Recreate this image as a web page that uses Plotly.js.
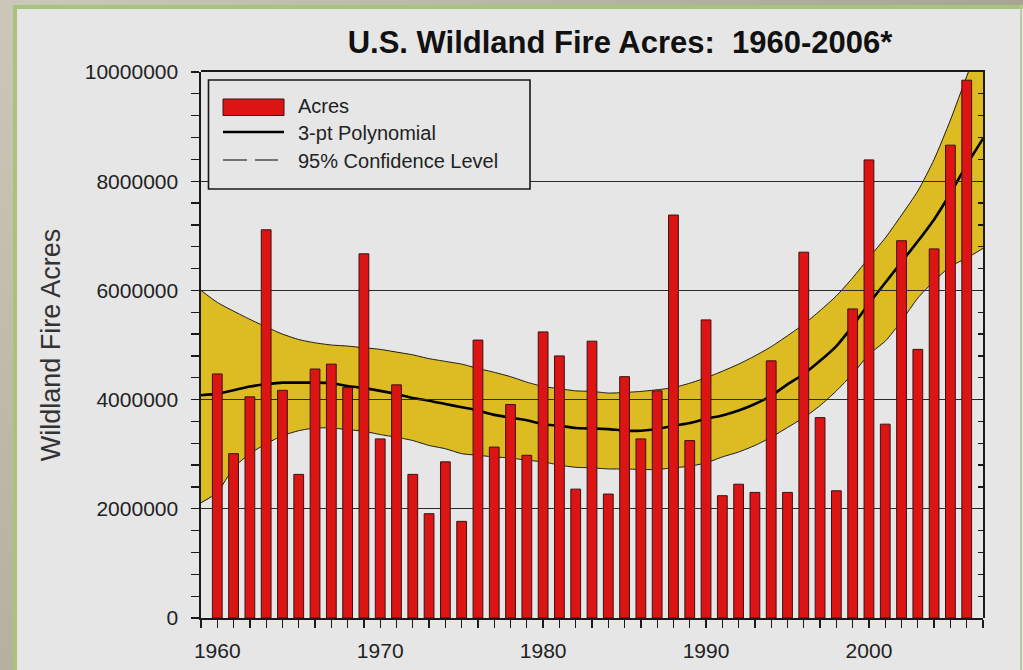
<!DOCTYPE html>
<html>
<head>
<meta charset="utf-8">
<script src="https://cdn.plot.ly/plotly-3.0.1.min.js"></script>
<style>
  html, body { margin: 0; padding: 0; background: #e6e6e6; overflow: hidden; }
  .fr { position: absolute; }
  #plot { position: absolute; left: 0; top: 0; width: 1023px; height: 670px; }
</style>
</head>
<body>
<div class="fr" style="left:0;top:0;width:13px;height:670px;background:linear-gradient(#cbc8b9,#b4b1a0);"></div>
<div class="fr" style="left:0;top:0;width:1023px;height:5px;background:linear-gradient(90deg,#cbc8b9,#a9a595);"></div>
<div class="fr" style="left:13px;top:5px;width:4px;height:665px;background:#a9c27c;"></div>
<div class="fr" style="left:13px;top:5px;width:1010px;height:4px;background:#a9c27c;"></div>
<div class="fr" style="left:1020px;top:5px;width:2px;height:665px;background:#b9cc98;"></div>
<div id="plot"></div>
<script>
// ---- data ----
const years = [1960,1961,1962,1963,1964,1965,1966,1967,1968,1969,
               1970,1971,1972,1973,1974,1975,1976,1977,1978,1979,
               1980,1981,1982,1983,1984,1985,1986,1987,1988,1989,
               1990,1991,1992,1993,1994,1995,1996,1997,1998,1999,
               2000,2001,2002,2003,2004,2005,2006];
const acres = [4470000,3010000,4050000,7110000,4170000,2630000,4560000,4650000,4220000,6670000,
               3280000,4270000,2630000,1910000,2860000,1770000,5090000,3130000,3910000,2980000,
               5240000,4800000,2360000,5070000,2270000,4420000,3280000,4160000,7380000,3250000,
               5460000,2240000,2450000,2300000,4710000,2300000,6700000,3670000,2330000,5660000,
               8390000,3550000,6910000,4920000,6760000,8660000,9850000];

const fitYears = [1959,1960,1961,1962,1963,1964,1965,1966,1967,1968,1969,
                  1970,1971,1972,1973,1974,1975,1976,1977,1978,1979,
                  1980,1981,1982,1983,1984,1985,1986,1987,1988,1989,
                  1990,1991,1992,1993,1994,1995,1996,1997,1998,1999,
                  2000,2001,2002,2003,2004,2005,2006,2007];
const polyFit = [4080000,4110000,4170000,4240000,4280000,4310000,4310000,4310000,4300000,4250000,4210000,
                 4160000,4100000,4030000,3980000,3920000,3860000,3800000,3720000,3670000,3620000,
                 3550000,3520000,3480000,3470000,3460000,3430000,3430000,3460000,3520000,3570000,
                 3650000,3710000,3800000,3920000,4070000,4280000,4470000,4710000,4980000,5350000,
                 5760000,6140000,6520000,6900000,7300000,7780000,8300000,8780000];
const upper95 = [6000000,5780000,5620000,5470000,5330000,5200000,5100000,5040000,5000000,4980000,4950000,
                 4920000,4870000,4820000,4750000,4700000,4650000,4570000,4500000,4420000,4320000,
                 4240000,4200000,4160000,4150000,4120000,4130000,4150000,4180000,4220000,4300000,
                 4400000,4520000,4650000,4800000,4970000,5170000,5380000,5630000,5900000,6230000,
                 6600000,6960000,7380000,7820000,8400000,9120000,9920000,10700000];
const lower95 = [2110000,2300000,2750000,3010000,3190000,3340000,3430000,3480000,3480000,3450000,3420000,
                 3360000,3310000,3250000,3160000,3100000,3010000,2980000,2950000,2930000,2890000,
                 2860000,2800000,2760000,2750000,2730000,2730000,2720000,2720000,2750000,2780000,
                 2840000,2950000,3040000,3160000,3310000,3490000,3670000,3890000,4160000,4470000,
                 4830000,5070000,5440000,5860000,6170000,6440000,6590000,6770000];

const yTicks = [0,2000000,4000000,6000000,8000000,10000000];
const xTickYears = [1960,1970,1980,1990,2000];
const legendNames = ['Acres','3-pt Polynomial','95% Confidence Level'];
const titleText = 'U.S. Wildland Fire Acres:&nbsp; 1960-2006*';
const yTitle = 'Wildland Fire Acres';

// ---- styling ----
const FONT = 'Arial, "Liberation Sans", sans-serif';
const RED = '#dc1414';
const GOLD = '#dcbc22';
const INK = '#1a1a1a';

// plot-area geometry (pixels) for paper-coordinate helpers
const W = 1023, H = 670;
const L = 201, R = 983, T = 72, B = 618;
const fx = px => (px - L) / (R - L);
const fy = py => (B - py) / (B - T);

const traces = [
  { x: fitYears, y: lower95, type: 'scatter', mode: 'lines', name: legendNames[2],
    line: { color: INK, width: 1, shape: 'spline', smoothing: 0.6 }, xaxis: 'x', yaxis: 'y',
    hoverinfo: 'x+y', showlegend: false },
  { x: fitYears, y: upper95, type: 'scatter', mode: 'lines', name: legendNames[2],
    fill: 'tonexty', fillcolor: GOLD,
    line: { color: INK, width: 1, shape: 'spline', smoothing: 0.6 }, xaxis: 'x', yaxis: 'y',
    hoverinfo: 'x+y', showlegend: false },
  { x: fitYears, y: polyFit, type: 'scatter', mode: 'lines', name: legendNames[1],
    line: { color: '#000', width: 2.6, shape: 'spline', smoothing: 0.6 }, xaxis: 'x', yaxis: 'y',
    showlegend: false },
  { x: years, y: acres, type: 'bar', name: legendNames[0], width: 0.6,
    marker: { color: RED, line: { color: '#3b1212', width: 1 } },
    xaxis: 'x2', yaxis: 'y2', showlegend: false }
];

const axisFont = { family: FONT, size: 21, color: '#222' };

const layout = {
  width: W, height: H,
  margin: { l: L, r: W - R, t: T, b: H - B, pad: 0 },
  paper_bgcolor: 'rgba(0,0,0,0)',
  plot_bgcolor: 'rgba(0,0,0,0)',
  showlegend: false,
  title: { text: titleText, x: 620 / W, xanchor: 'center', y: 1 - 42 / H, yanchor: 'middle',
           font: { family: FONT, size: 31, color: '#111', weight: 'bold' } },
  xaxis: {
    domain: [0, 1], anchor: 'y', range: [1959, 2007], fixedrange: true,
    tickvals: xTickYears, ticktext: xTickYears.map(String),
    ticks: 'outside', ticklen: 8, tickwidth: 1.3, tickcolor: INK,
    minor: { tick0: 1959, dtick: 1, ticks: 'outside', ticklen: 8, tickwidth: 1.3, tickcolor: INK, showgrid: false },
    showline: true, linecolor: INK, linewidth: 1.6, showgrid: false, zeroline: false,
    tickfont: axisFont, ticklabelstandoff: 5
  },
  yaxis: {
    domain: [0, 1], anchor: 'x', range: [0, 10000000], fixedrange: true,
    tickvals: yTicks, ticktext: yTicks.map(v => String(v)),
    ticks: 'outside', ticklen: 8, tickwidth: 1.3, tickcolor: INK,
    minor: { dtick: 400000, ticks: 'outside', ticklen: 8, tickwidth: 1.3, tickcolor: INK, showgrid: false },
    showline: true, linecolor: INK, linewidth: 1.6, showgrid: false, zeroline: false,
    tickfont: axisFont, ticklabelstandoff: 9,
    title: { text: yTitle, font: { family: FONT, size: 27, color: '#333' }, standoff: 16 }
  },
  xaxis2: {
    domain: [0, 1], anchor: 'y2', side: 'top', range: [1959, 2007], fixedrange: true,
    showline: true, linecolor: INK, linewidth: 1.6, ticks: '', showticklabels: false,
    showgrid: false, zeroline: false
  },
  yaxis2: {
    domain: [0, 1], anchor: 'x2', side: 'right', range: [0, 10000000], fixedrange: true,
    tickvals: yTicks, ticks: 'inside', ticklen: 5, tickwidth: 1.3, tickcolor: INK,
    minor: { dtick: 400000, ticks: 'inside', ticklen: 5, tickwidth: 1.3, tickcolor: INK, showgrid: false },
    showticklabels: false, showline: true, linecolor: INK, linewidth: 1.6,
    showgrid: true, gridcolor: '#2a2a2a', gridwidth: 1.3, zeroline: false
  },
  shapes: [
    // legend frame
    { type: 'rect', xref: 'paper', yref: 'paper', x0: fx(208.5), x1: fx(530), y0: fy(189), y1: fy(80),
      fillcolor: '#e6e6e6', line: { color: INK, width: 1.6 }, layer: 'above' },
    // legend swatches
    { type: 'rect', xref: 'paper', yref: 'paper', x0: fx(223), x1: fx(284), y0: fy(115.5), y1: fy(99),
      fillcolor: RED, line: { color: '#3b1212', width: 1 }, layer: 'above' },
    { type: 'line', xref: 'paper', yref: 'paper', x0: fx(223), x1: fx(284), y0: fy(132), y1: fy(132),
      line: { color: '#000', width: 2.6 }, layer: 'above' },
    { type: 'line', xref: 'paper', yref: 'paper', x0: fx(223), x1: fx(278), y0: fy(160), y1: fy(160),
      line: { color: '#000', width: 1.2, dash: '24px,8px' }, layer: 'above' }
  ],
  annotations: legendNames.map((name, i) => ({
    text: name, xref: 'paper', yref: 'paper', x: fx(296), y: fy([106, 133, 160.5][i]),
    xanchor: 'left', yanchor: 'middle', showarrow: false,
    font: { family: FONT, size: 20, color: '#222' }
  }))
};

Plotly.newPlot('plot', traces, layout, { staticPlot: true, displayModeBar: false });
</script>
</body>
</html>
